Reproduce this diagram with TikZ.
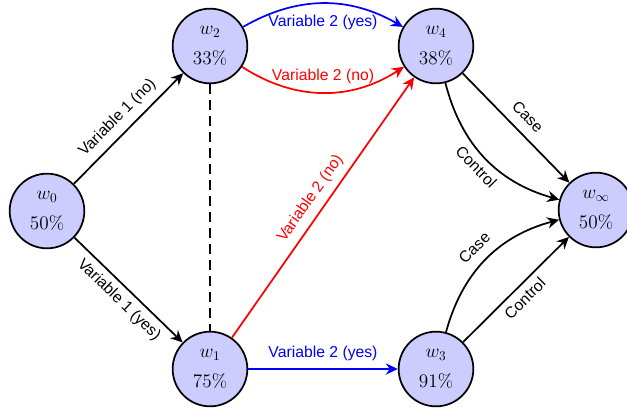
\documentclass[tikz,border=0pt]{standalone}
\usepackage{fontspec}
\newfontfamily\labelfont{Liberation Sans}
\usetikzlibrary{arrows.meta}
\begin{document}
\begin{tikzpicture}[x=0.75pt,y=-0.75pt,
  state/.style={circle, draw, line width=1.3pt, fill=blue!20, minimum size=56pt,
    inner sep=0pt, align=center, font=\fontsize{14}{22}\selectfont},
  link/.style={line width=1.3pt, -{Stealth[length=9pt,width=8.5pt,inset=3pt]}},
  lbl/.style={font=\labelfont\fontsize{11.8}{14}\selectfont, sloped,
    inner sep=6pt, text height=1.6ex, text depth=.4ex}]
\useasboundingbox (0,0) rectangle (627,412);

% states
\node[state] (w0)   at (47,211)  {$w_0$\\$50\%$};
\node[state] (w2)   at (210,46)  {$w_2$\\$33\%$};
\node[state] (w1)   at (210,369) {$w_1$\\$75\%$};
\node[state] (w4)   at (436,46)  {$w_4$\\$38\%$};
\node[state] (w3)   at (436,369) {$w_3$\\$91\%$};
\node[state] (winf) at (596,210) {$w_\infty$\\$50\%$};

% first variable
\draw[link] (w0) -- node[lbl, above] {Variable 1 (no)} (w2);
\draw[link] (w0) -- node[lbl, below] {Variable 1 (yes)} (w1);
\draw[line width=1.3pt, dash pattern=on 7pt off 5pt] (w2) -- (w1);

% second variable
\draw[link, blue] (w2) to[bend left=30] node[lbl, below, yshift=-4pt] {Variable 2 (yes)} (w4);
\draw[link, red]  (w2) to[bend right=33] node[lbl, above, inner sep=7pt] {Variable 2 (no)} (w4);
\draw[link, red]  (w1) -- node[lbl, above] {Variable 2 (no)} (w4);
\draw[link, blue] (w1) -- node[lbl, above] {Variable 2 (yes)} (w3);

% final outcome
\draw[link] (w4) -- node[lbl, above] {Case} (winf);
\draw[link] (w4) to[bend right=30] node[lbl, below] {Control} (winf);
\draw[link] (w3) to[bend left=30] node[lbl, above] {Case} (winf);
\draw[link] (w3) -- node[lbl, below] {Control} (winf);
\end{tikzpicture}
\end{document}
